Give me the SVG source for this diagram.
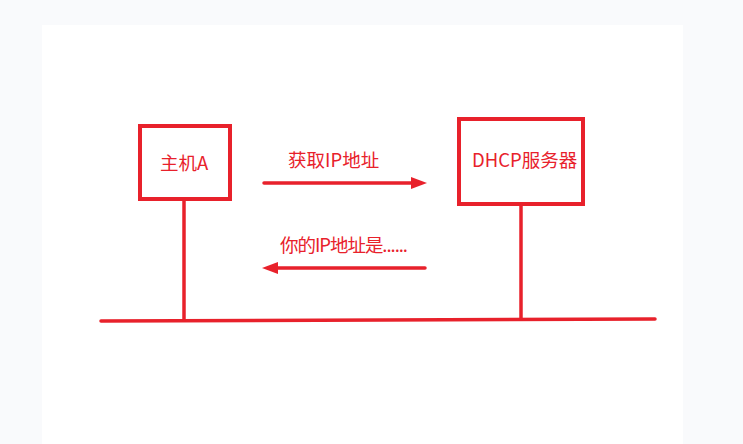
<svg xmlns="http://www.w3.org/2000/svg" width="743" height="444" viewBox="0 0 743 444">
<style>
.box{fill:#fff;stroke:#e8212b;stroke-width:4}
.ln{stroke:#e8212b;stroke-width:3.5;fill:none;stroke-linecap:round}
.t{font-family:"Noto Sans CJK SC","Noto Sans",sans-serif;font-size:18.5px;fill:#e8212b}
</style>
<defs>
<marker id="ah" markerWidth="16" markerHeight="12" refX="6" refY="6" orient="auto" markerUnits="userSpaceOnUse">
<path d="M0,0 L16,6 L0,12 Z" fill="#e8212b"/>
</marker>
</defs>
<rect width="743" height="444" fill="#f9fafc"/>
<rect x="42" y="25" width="641" height="419" fill="#fff"/>
<g id="connectors">
<line class="ln" x1="101" y1="321" x2="655" y2="319"/>
<line class="ln" x1="184" y1="199" x2="184" y2="320"/>
<line class="ln" x1="521" y1="205" x2="521" y2="319"/>
<line class="ln" x1="264" y1="183" x2="417" y2="183" marker-end="url(#ah)"/>
<line class="ln" x1="425" y1="268" x2="272" y2="268" marker-end="url(#ah)"/>
<text class="t" x="288" y="167">获取IP地址</text>
<text class="t" x="280" y="252" textLength="128">你的IP地址是......</text>
</g>
<g id="hostA">
<rect class="box" x="140" y="126" width="90" height="73"/>
<text class="t" x="160" y="170">主机A</text>
</g>
<g id="dhcp">
<rect class="box" x="459" y="119" width="124" height="85"/>
<text class="t" x="472" y="167">DHCP服务器</text>
</g>
</svg>
